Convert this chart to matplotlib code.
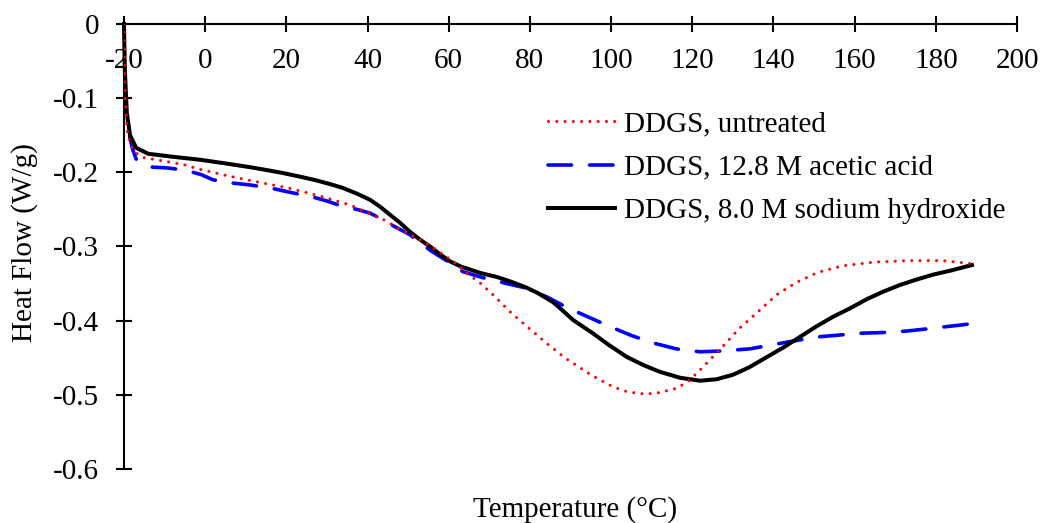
import matplotlib
matplotlib.use("Agg")
from matplotlib import pyplot as plt

plt.rcParams['font.family'] = ['Liberation Serif', 'DejaVu Serif']
plt.rcParams['axes.unicode_minus'] = False

# DSC traces (temperature in degC, heat flow in W/g)
untreated_t = [-20, -19.8, -19.3, -18.5, -17, -15.3, -10, -5, -1.3, 5, 12.8,
               20.4, 28.3, 35.7, 39.4, 44, 48.5, 53, 57.1, 61.5, 64.7, 67.7,
               70.9, 75.1, 79.3, 84, 88.6, 95.3, 100.4, 104, 108.3, 112,
               116.2, 119, 122.4, 126.8, 131.7, 136.2, 140.8, 145.8, 150.9,
               157.1, 165, 173.6, 181.7, 188.4]
untreated_hf = [0, -0.08, -0.14, -0.163, -0.174, -0.180, -0.185, -0.190,
                -0.196, -0.204, -0.213, -0.221, -0.232, -0.244, -0.253,
                -0.264, -0.278, -0.291, -0.305, -0.322, -0.337, -0.349,
                -0.365, -0.388, -0.408, -0.430, -0.450, -0.474, -0.489,
                -0.496, -0.499, -0.497, -0.491, -0.482, -0.464, -0.439,
                -0.410, -0.388, -0.365, -0.348, -0.335, -0.326, -0.321,
                -0.319, -0.319, -0.323]

acetic_t = [-18.6, -17.8, -17, -16, -13, -9.4, -5, -1, 1.9, 6, 11, 16, 20.1,
            26.3, 30.2, 33.9, 37.4, 40.6, 43.5, 46.3, 50.4, 55.4, 60.3, 63.5,
            68.4, 74.3, 79, 84.2, 88, 92.3, 99.7, 105, 110.3, 116, 121.9, 127,
            134.2, 142.3, 146.5, 150.7, 155, 161.3, 167, 172.9, 178, 182.7,
            186, 188.9]
acetic_hf = [-0.152, -0.170, -0.182, -0.187, -0.193, -0.194, -0.197, -0.203,
             -0.210, -0.214, -0.217, -0.221, -0.226, -0.233, -0.239, -0.246,
             -0.250, -0.255, -0.263, -0.272, -0.284, -0.305, -0.322, -0.334,
             -0.342, -0.350, -0.356, -0.368, -0.379, -0.390, -0.408, -0.420,
             -0.430, -0.438, -0.442, -0.441, -0.438, -0.430, -0.426, -0.422,
             -0.420, -0.417, -0.416, -0.414, -0.411, -0.408, -0.406, -0.404]

naoh_t = [-20, -19.8, -19.3, -18.5, -17, -14, -8, -1.3, 5, 11, 15.2, 19.2,
          23.5, 27.5, 31.5, 33.9, 37.5, 40.6, 43, 45.5, 48, 50.4, 53, 55.4, 58,
          60.3, 63, 65.2, 68, 71.8, 75.1, 79, 82, 85.7, 88, 90.6, 95.5, 99.5,
          103.9, 108, 112, 117, 121.9, 126, 130, 134, 138.4, 142.5, 146.5,
          150.5, 154.6, 159, 163, 167, 171.1, 175, 179.3, 184, 188.9]
naoh_hf = [0, -0.06, -0.12, -0.15, -0.167, -0.175, -0.179, -0.183, -0.188,
           -0.193, -0.197, -0.201, -0.206, -0.211, -0.217, -0.221, -0.229,
           -0.237, -0.246, -0.257, -0.268, -0.280, -0.291, -0.300, -0.311,
           -0.320, -0.327, -0.331, -0.336, -0.341, -0.347, -0.355, -0.363,
           -0.375, -0.386, -0.399, -0.417, -0.433, -0.449, -0.460, -0.469,
           -0.477, -0.481, -0.479, -0.473, -0.463, -0.449, -0.436, -0.422,
           -0.408, -0.395, -0.383, -0.371, -0.361, -0.352, -0.345, -0.338,
           -0.332, -0.325]

labels = ["DDGS, untreated", "DDGS, 12.8 M acetic acid",
          "DDGS, 8.0 M sodium hydroxide"]
x_ticks = list(range(-20, 201, 20))
y_ticks = [0, -0.1, -0.2, -0.3, -0.4, -0.5, -0.6]


def main():
    fig = plt.figure(figsize=(10.4, 5.23), dpi=100)
    ax = fig.add_axes([0.1192, 0.1033, 0.8587, 0.8508])

    ax.plot(untreated_t, untreated_hf, color="red", lw=2.2,
            linestyle=(0, (0.01, 2.7)), dash_capstyle="round",
            label=labels[0], zorder=4)
    ax.plot(acetic_t, acetic_hf, color="blue", lw=2.6,
            linestyle=(0, (6.5, 5)), dash_capstyle="round",
            label=labels[1], zorder=2)
    ax.plot(naoh_t, naoh_hf, color="black", lw=2.9, label=labels[2],
            zorder=3, clip_on=False, solid_joinstyle="round")

    ax.set_xlim(-20, 200)
    ax.set_ylim(-0.6, 0)
    ax.set_xticks(x_ticks)
    ax.set_xticklabels([str(t) for t in x_ticks])
    ax.set_yticks(y_ticks)
    ax.set_yticklabels(["0" if v == 0 else "%.1f" % v for v in y_ticks])

    # x axis crosses at y = 0, labels sit below it inside the plot
    ax.spines['bottom'].set_position(('data', 0))
    ax.spines['top'].set_visible(False)
    ax.spines['right'].set_visible(False)
    for s in ('bottom', 'left'):
        ax.spines[s].set_linewidth(1.5)
    ax.tick_params(axis='both', direction='inout', length=11.5, width=1.5,
                   labelsize=21)
    ax.tick_params(axis='x', pad=11.5)
    ax.tick_params(axis='y', pad=12)

    fig.text(575 / 1040, 1 - 510 / 523, "Temperature (°C)", fontsize=21,
             ha="center", va="center")
    fig.text(25 / 1040, 1 - 243 / 523, "Heat Flow (W/g)", fontsize=21,
             ha="center", va="center", rotation=90)

    ax.legend(loc="upper left", bbox_to_anchor=(548 / 1040, 1 - 111 / 523),
              bbox_transform=fig.transFigure, frameon=False, fontsize=21,
              handlelength=2.3, handletextpad=0.3, labelspacing=0.58,
              borderpad=0, borderaxespad=0)

    fig.savefig("out.png", dpi=100)


if __name__ == "__main__":
    main()
